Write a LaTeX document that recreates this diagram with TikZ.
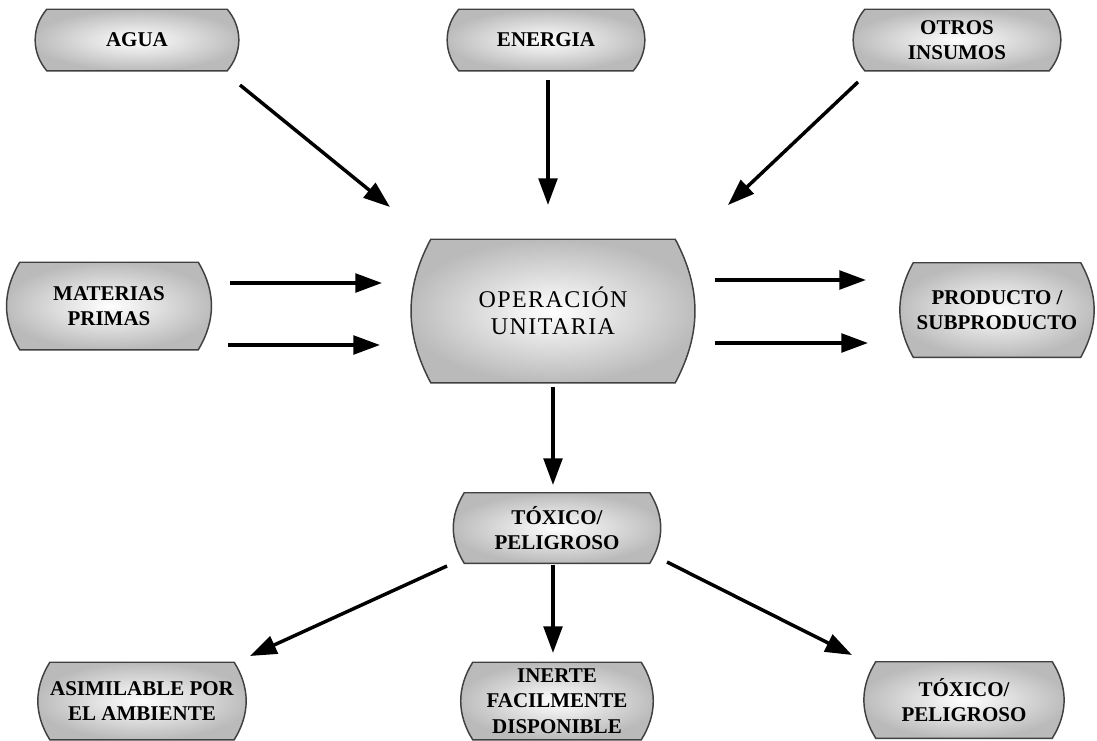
\documentclass[tikz,border=0pt]{standalone}
\usepackage{fontspec}
\setmainfont{Liberation Serif}
\newfontfamily\opfont[LetterSpace=6]{Liberation Serif}
\usetikzlibrary{arrows.meta,backgrounds}

\tikzset{
  boxtext/.style={align=center, inner sep=0pt,
    font=\bfseries\fontsize{15.75}{19}\selectfont},
  optext/.style={font=\opfont\mdseries\fontsize{18}{20}\selectfont},
  boxshape/.style={draw=black!75, line width=1.1pt, shading=radial,
    inner color=white, outer color=black!27},
  arr/.style={line width=2.6pt, -{Triangle[length=20pt,width=14pt]}},
}

% barrel box: [options] name, centre, inner width (px), height (px), side bend, text
\newcommand\barrelbox[7][]{%
  \node[boxtext, minimum width=#4*0.75pt, minimum height=#5*0.75pt, #1] (#2) at #3 {#7};
  \begin{scope}[on background layer]
    \draw[boxshape] (#2.north west) to[bend right=#6] (#2.south west)
      -- (#2.south east) to[bend right=#6] (#2.north east) -- cycle;
  \end{scope}}

\begin{document}
\begin{tikzpicture}[x=0.75pt, y=-0.75pt]
  \useasboundingbox (0,0) rectangle (1097,740);

  % inputs
  \barrelbox{agua}{(137,40)}{180}{61}{40}{AGUA}
  \barrelbox{energia}{(546,40)}{174}{61}{40}{ENERGIA}
  \barrelbox{otros}{(957,40)}{184}{61}{40}{OTROS\\INSUMOS}
  \barrelbox{materias}{(109,306)}{178}{87}{31}{MATERIAS\\PRIMAS}

  % process
  \barrelbox[optext]{oper}{(553,311)}{244}{143}{28}{OPERACIÓN\\UNITARIA}

  % outputs
  \barrelbox{producto}{(997,310)}{167}{94}{29}{PRODUCTO /\\SUBPRODUCTO}
  \barrelbox{toxico}{(557,528)}{185}{70}{32}{TÓXICO/\\PELIGROSO}
  \barrelbox{asim}{(142,701)}{177}{77}{32}{ASIMILABLE POR\\EL AMBIENTE}
  \barrelbox{inerte}{(557,701)}{168}{77}{32}{INERTE\\FACILMENTE\\DISPONIBLE}
  \barrelbox{toxico2}{(964,700)}{176}{76}{32}{TÓXICO/\\PELIGROSO}

  % arrow end points
  \coordinate (aguaA) at (240,85);   \coordinate (aguaB) at (390,207);
  \coordinate (enerA) at (548,80);   \coordinate (enerB) at (548,205);
  \coordinate (otrosA) at (858,82);  \coordinate (otrosB) at (728,205);
  \coordinate (mpA1) at (230,283);   \coordinate (mpB1) at (382,283);
  \coordinate (mpA2) at (228,345);   \coordinate (mpB2) at (380,345);
  \coordinate (prA1) at (715,280);   \coordinate (prB1) at (866,280);
  \coordinate (prA2) at (715,343);   \coordinate (prB2) at (868,343);
  \coordinate (opA) at (553,387);    \coordinate (opB) at (553,485);
  \coordinate (txA1) at (447,566);   \coordinate (txB1) at (250,656);
  \coordinate (txA2) at (553,565);   \coordinate (txB2) at (553,653);
  \coordinate (txA3) at (667,562);   \coordinate (txB3) at (852,655);

  \draw[arr] (aguaA) -- (aguaB);
  \draw[arr] (enerA) -- (enerB);
  \draw[arr] (otrosA) -- (otrosB);
  \draw[arr] (mpA1) -- (mpB1);
  \draw[arr] (mpA2) -- (mpB2);
  \draw[arr] (prA1) -- (prB1);
  \draw[arr] (prA2) -- (prB2);
  \draw[arr] (opA) -- (opB);
  \draw[arr] (txA1) -- (txB1);
  \draw[arr] (txA2) -- (txB2);
  \draw[arr] (txA3) -- (txB3);
\end{tikzpicture}
\end{document}
